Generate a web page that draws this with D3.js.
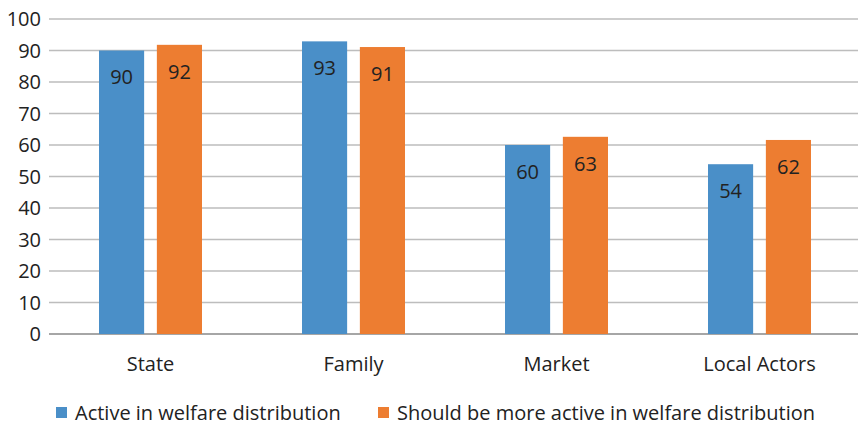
<!DOCTYPE html>
<html><head><meta charset="utf-8">
<script src="https://cdn.jsdelivr.net/npm/d3@7"></script>
<style>body{margin:0;background:#fff}svg{display:block}text{font-family:"Open Sans",sans-serif;fill:#222}</style>
</head><body><svg id="c" width="858" height="425"></svg>
<script>
const categories = ["State", "Family", "Market", "Local Actors"];
const seriesNames = ["Active in welfare distribution", "Should be more active in welfare distribution"];
const active = [90, 92.9, 60, 53.9];
const moreActive = [91.8, 91.1, 62.6, 61.6];
const yTicks = [0,10,20,30,40,50,60,70,80,90,100];
const colors = ["#4a8fc8", "#ed7d31"];

const svg = d3.select("#c");
const x = d3.scaleBand().domain(categories).range([49, 861]);
const y = d3.scaleLinear().domain([0,100]).range([334, 19]);
const xs = d3.scaleBand().domain([0,1]).range([50, 153]).paddingInner(0.22);

// gridlines
svg.append("g").selectAll("line").data(yTicks).join("line")
  .attr("x1", 49).attr("x2", 858)
  .attr("y1", d=>y(d)).attr("y2", d=>y(d))
  .attr("stroke", d=> d===0 ? "#a6a6a6" : "#bdbdbd").attr("stroke-width", d=> d===0?2:1.5);

// y labels
svg.append("g").selectAll("text").data(yTicks).join("text")
  .attr("x", 41).attr("y", d=>y(d)).attr("dy","0.36em").attr("text-anchor","end")
  .attr("font-size", 20).text(d=>d);

const data = categories.map((c,i)=>({c, v:[active[i], moreActive[i]]}));
const g = svg.append("g").selectAll("g").data(data).join("g").attr("transform", d=>`translate(${x(d.c)},0)`);
g.selectAll("rect").data(d=>d.v.map((v,k)=>({v,k}))).join("rect")
  .attr("x", d=>xs(d.k)).attr("width", xs.bandwidth())
  .attr("y", d=>y(d.v)).attr("height", d=>y(0)-y(d.v))
  .attr("fill", d=>colors[d.k]);
g.selectAll("text.lbl").data(d=>d.v.map((v,k)=>({v,k}))).join("text").attr("class","lbl")
  .attr("x", d=>xs(d.k)+xs.bandwidth()/2).attr("y", d=>y(d.v)+26.5).attr("dy","0.36em")
  .attr("text-anchor","middle").attr("font-size", 20).text(d=>Math.round(d.v));

// x labels
svg.append("g").selectAll("text").data(categories).join("text")
  .attr("x", d=>x(d)+x.bandwidth()/2).attr("y", 364).attr("dy","0.36em")
  .attr("text-anchor","middle").attr("font-size", 20).text(d=>d);

// legend
const leg = [{x:56, t:seriesNames[0], c:colors[0]}, {x:378, t:seriesNames[1], c:colors[1]}];
const lg = svg.append("g").selectAll("g").data(leg).join("g");
lg.append("rect").attr("x", d=>d.x).attr("y", 407).attr("width", 11).attr("height", 11).attr("fill", d=>d.c);
lg.append("text").attr("x", d=>d.x+19).attr("y", 413).attr("dy","0.36em").attr("font-size", 20).text(d=>d.t);
</script></body></html>
